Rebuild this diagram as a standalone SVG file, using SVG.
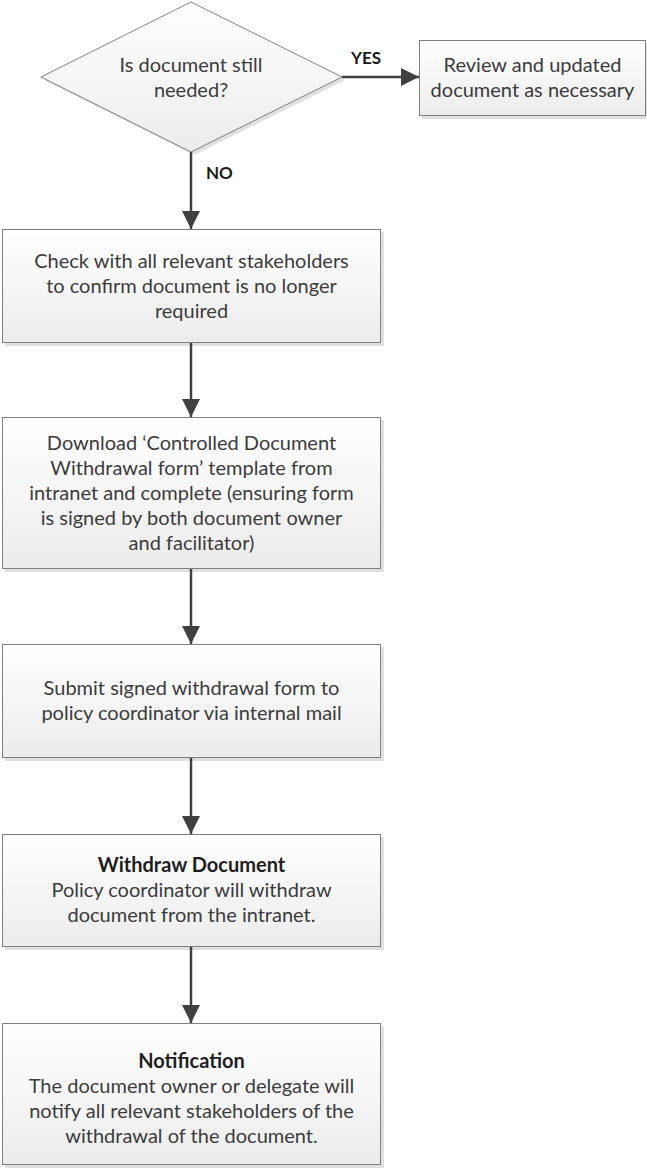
<svg xmlns="http://www.w3.org/2000/svg" width="647" height="1175" viewBox="0 0 647 1175">
  <defs>
    <linearGradient id="boxFill" x1="0" y1="0" x2="0" y2="1">
      <stop offset="0" stop-color="#ffffff"/>
      <stop offset="1" stop-color="#ececec"/>
    </linearGradient>
    <marker id="arrow" markerUnits="userSpaceOnUse" markerWidth="18" markerHeight="18" refX="18" refY="9" orient="auto">
      <path d="M0,0 L18,9 L0,18 Z" fill="#404040"/>
    </marker>
  </defs>
  <style>
    .box { fill: url(#boxFill); stroke: #808080; stroke-width: 1; }
    .shadow { fill: #e0e0e0; }
    .txt { font-family: Lato, "Liberation Sans", sans-serif; font-size: 20px; fill: #3c3c3c; text-anchor: middle; }
    .bold { font-weight: bold; fill: #1e1e1e; }
    .lbl { font-family: Lato, "Liberation Sans", sans-serif; font-size: 17px; font-weight: bold; fill: #1a1a1a; }
    .conn { stroke: #404040; stroke-width: 2.5; fill: none; marker-end: url(#arrow); }
  </style>

  <rect width="647" height="1175" fill="#ffffff"/>

  <!-- decision -->
  <g id="decision">
    <polygon class="shadow" points="44,80 194,5 345,80 194,155"/>
    <polygon class="box" points="41,77 191,2 342,77 191,152"/>
    <text class="txt" x="191" y="72">Is document still</text>
    <text class="txt" x="191" y="97">needed?</text>
  </g>

  <g id="review">
    <rect class="shadow" x="422" y="43" width="227" height="76"/>
    <rect class="box" x="419.5" y="40.5" width="226" height="75"/>
    <text class="txt" x="532.5" y="72">Review and updated</text>
    <text class="txt" x="532.5" y="97">document as necessary</text>
  </g>

  <g id="check">
    <rect class="shadow" x="5" y="232" width="379" height="114"/>
    <rect class="box" x="2.5" y="229.5" width="378" height="113"/>
    <text class="txt" x="191.5" y="268">Check with all relevant stakeholders</text>
    <text class="txt" x="191.5" y="293">to confirm document is no longer</text>
    <text class="txt" x="191.5" y="318">required</text>
  </g>

  <g id="download">
    <rect class="shadow" x="5" y="420" width="379" height="152"/>
    <rect class="box" x="2.5" y="417.5" width="378" height="151"/>
    <text class="txt" x="191.5" y="450">Download ‘Controlled Document</text>
    <text class="txt" x="191.5" y="475">Withdrawal form’ template from</text>
    <text class="txt" x="191.5" y="500">intranet and complete (ensuring form</text>
    <text class="txt" x="191.5" y="525">is signed by both document owner</text>
    <text class="txt" x="191.5" y="550">and facilitator)</text>
  </g>

  <g id="submit">
    <rect class="shadow" x="5" y="647" width="379" height="114"/>
    <rect class="box" x="2.5" y="644.5" width="378" height="113"/>
    <text class="txt" x="191.5" y="695">Submit signed withdrawal form to</text>
    <text class="txt" x="191.5" y="720">policy coordinator via internal mail</text>
  </g>

  <g id="withdraw">
    <rect class="shadow" x="5" y="837" width="379" height="113"/>
    <rect class="box" x="2.5" y="834.5" width="378" height="112"/>
    <text class="txt bold" x="191.5" y="872">Withdraw Document</text>
    <text class="txt" x="191.5" y="897">Policy coordinator will withdraw</text>
    <text class="txt" x="191.5" y="922">document from the intranet.</text>
  </g>

  <g id="notification">
    <rect class="shadow" x="5" y="1026" width="379" height="142"/>
    <rect class="box" x="2.5" y="1023.5" width="378" height="141"/>
    <text class="txt bold" x="191.5" y="1068">Notification</text>
    <text class="txt" x="191.5" y="1093">The document owner or delegate will</text>
    <text class="txt" x="191.5" y="1118">notify all relevant stakeholders of the</text>
    <text class="txt" x="191.5" y="1143">withdrawal of the document.</text>
  </g>

  <!-- connectors -->
  <g id="connectors">
    <line class="conn" x1="342" y1="77" x2="419" y2="77"/>
    <line class="conn" x1="191" y1="152" x2="191" y2="229"/>
    <line class="conn" x1="191" y1="343" x2="191" y2="417"/>
    <line class="conn" x1="191" y1="569" x2="191" y2="644"/>
    <line class="conn" x1="191" y1="758" x2="191" y2="834"/>
    <line class="conn" x1="191" y1="947" x2="191" y2="1023"/>
    <text class="lbl" x="351" y="64">YES</text>
    <text class="lbl" x="206" y="179">NO</text>
  </g>
</svg>
